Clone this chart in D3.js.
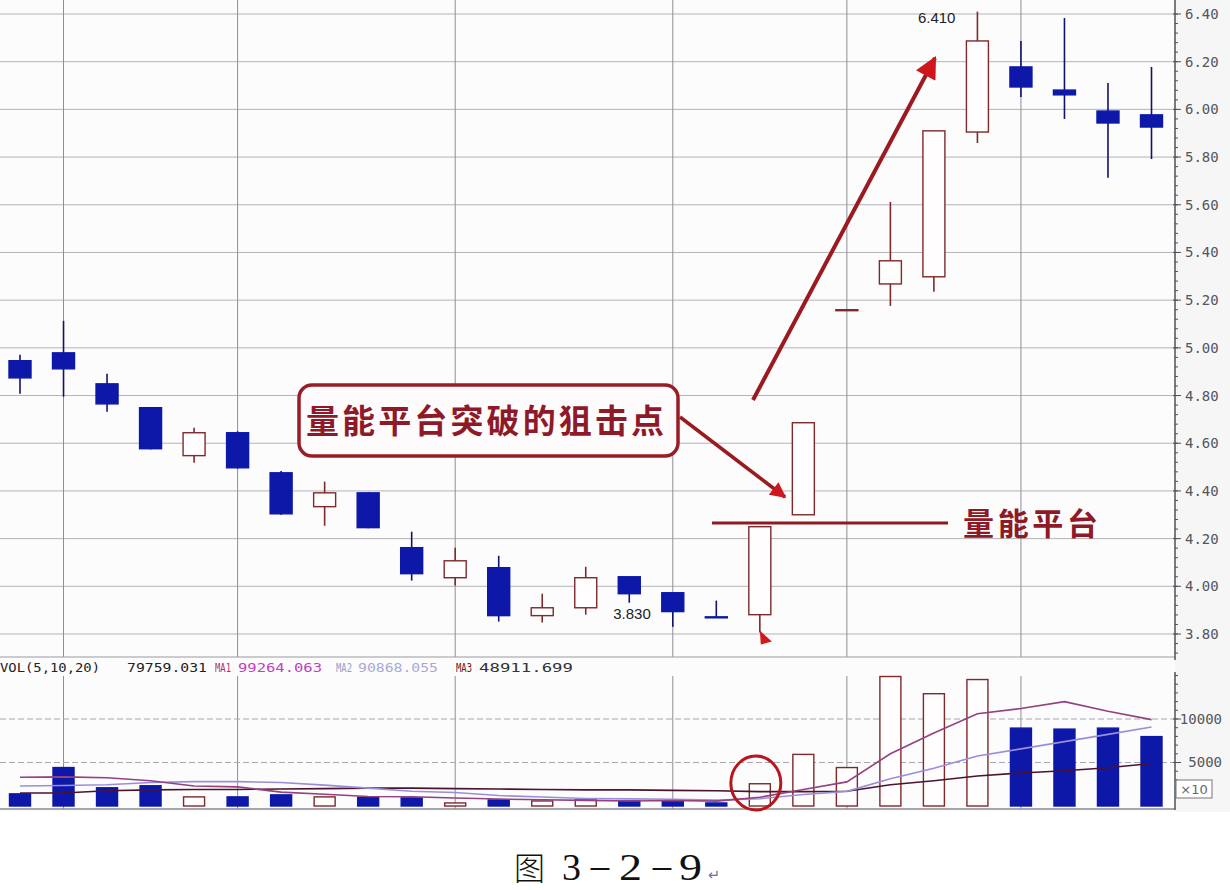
<!DOCTYPE html>
<html><head><meta charset="utf-8">
<script src="https://cdn.jsdelivr.net/npm/d3@7"></script>
<style>body{margin:0;background:#fff;overflow:hidden}</style>
</head><body><svg id="c" width="1230" height="890"></svg>
<script>
// ---------- DATA ----------
const opens  = [4.946,4.979,4.849,4.749,4.548,4.644,4.476,4.334,4.392,4.162,4.036,4.078,3.877,3.910,4.040,3.973,3.872,3.881,4.300,5.159,5.268,5.298,5.905,6.178,6.081,5.993,5.977];
const highs  = [4.971,5.113,4.891,4.752,4.665,4.650,4.484,4.439,4.395,4.229,4.162,4.128,3.969,4.082,4.040,3.975,3.940,4.250,4.686,5.161,5.612,5.910,6.410,6.287,6.383,6.111,6.178];
const lows   = [4.807,4.795,4.732,4.574,4.518,4.494,4.300,4.254,4.243,4.024,4.003,3.852,3.848,3.881,3.931,3.830,3.869,3.806,4.300,5.158,5.176,5.235,5.859,6.052,5.960,5.713,5.792];
const closes = [4.874,4.912,4.765,4.577,4.644,4.497,4.304,4.392,4.246,4.053,4.107,3.877,3.910,4.036,3.969,3.894,3.869,4.250,4.686,5.160,5.365,5.910,6.287,6.094,6.061,5.943,5.926];
const volumes = [1395,4419,2093,2326,1047,1047,1279,1047,1000,930,350,700,580,700,580,580,350,2558,5930,4419,14884,12907,14535,8953,8837,8953,7976];
const ma5  = [3300,3350,3250,2900,2300,2200,1600,1350,1100,1060,920,800,710,650,580,630,560,1000,1900,2770,6000,8400,10600,11200,12000,10900,9926];
const ma10 = [2300,2350,2450,2700,2800,2800,2700,2400,2050,1700,1550,1200,1030,870,820,775,680,830,1330,1680,3130,4350,5740,6570,7400,8230,9087];
const ma20 = [1500,1500,1750,1850,1900,1900,1950,2000,2050,2050,2000,1950,1900,1850,1850,1800,1750,1650,1650,1700,2450,2900,3450,3800,4050,4400,4891];
const priceTicks = [3.8,4.0,4.2,4.4,4.6,4.8,5.0,5.2,5.4,5.6,5.8,6.0,6.2,6.4];
const volTicks = [5000,10000];
const gridIdx = [1,5,10,15,19,23];
const headerTexts = ["VOL(5,10,20)","79759.031","MA1","99264.063","MA2","90868.055","MA3","48911.699"];
const maxLabel = "6.410", minLabel = "3.830";
const calloutText = "量能平台突破的狙击点";
const platformText = "量能平台";
const platformLevel = 4.266;
const captionParts = ["图","3","－","2","－","9","↵"];

// ---------- SETUP ----------
const svg = d3.select("#c");
const W = 1230;
const axisX = 1175;
const x = d3.scaleLinear().domain([0,26]).range([20,1151.5]);
const y = d3.scaleLinear().domain([3.8,6.4]).range([634,14]);
const yv = d3.scaleLinear().domain([0,10000]).range([806,719]);

svg.append("rect").attr("width",W).attr("height",890).attr("fill","#ffffff");
svg.append("rect").attr("x",0).attr("y",0).attr("width",W).attr("height",812).attr("fill","#fcfcfd");
svg.append("rect").attr("x",axisX).attr("y",0).attr("width",W-axisX).attr("height",812).attr("fill","#f6f6f7");

// price grid
svg.append("g").selectAll("line").data(priceTicks).join("line")
  .attr("x1",0).attr("x2",axisX).attr("y1",d=>y(d)).attr("y2",d=>y(d))
  .attr("stroke","#b4b4b8").attr("stroke-width",1);
// vertical grid
svg.append("g").selectAll("line").data(gridIdx).join("line")
  .attr("x1",d=>x(d)).attr("x2",d=>x(d)).attr("y1",0).attr("y2",657)
  .attr("stroke","#8e8e96").attr("stroke-width",1);
svg.append("g").selectAll("line").data(gridIdx).join("line")
  .attr("x1",d=>x(d)).attr("x2",d=>x(d)).attr("y1",676).attr("y2",809)
  .attr("stroke","#8e8e96").attr("stroke-width",1);
// pane separators
svg.append("line").attr("x1",0).attr("x2",axisX).attr("y1",657).attr("y2",657).attr("stroke","#9a9aa0");
svg.append("line").attr("x1",0).attr("x2",axisX).attr("y1",809).attr("y2",809).attr("stroke","#8a8a90").attr("stroke-width",1.5);
// volume grid
svg.append("g").selectAll("line").data(volTicks).join("line")
  .attr("x1",0).attr("x2",axisX).attr("y1",d=>yv(d)).attr("y2",d=>yv(d))
  .attr("stroke","#a8a8ae").attr("stroke-dasharray","6,3");

// right axes
const pAxis = d3.axisRight(y).tickValues(priceTicks).tickSize(0).tickFormat(d3.format(".2f"));
const gpa = svg.append("g").attr("transform",`translate(${axisX},0)`).call(pAxis);
gpa.select(".domain").remove();
gpa.selectAll("text").attr("x",10).attr("fill","#55555c").attr("font-family","DejaVu Sans Mono").attr("font-size",14);
svg.append("line").attr("x1",axisX).attr("x2",axisX).attr("y1",0).attr("y2",660).attr("stroke","#505058").attr("stroke-width",1.5);
// minor ticks
const minor = d3.range(3.72,6.44,0.04);
svg.append("g").selectAll("line").data(minor).join("line")
  .attr("x1",axisX).attr("x2",axisX+3).attr("y1",d=>y(d)).attr("y2",d=>y(d)).attr("stroke","#505058");
svg.append("g").selectAll("line").data(priceTicks).join("line")
  .attr("x1",axisX-2).attr("x2",axisX+6).attr("y1",d=>y(d)).attr("y2",d=>y(d)).attr("stroke","#505058");

const vAxis = d3.axisRight(yv).tickValues(volTicks).tickSize(0).tickFormat(d3.format("d"));
const gva = svg.append("g").attr("transform",`translate(${axisX},0)`).call(vAxis);
gva.select(".domain").remove();
gva.selectAll("text").attr("x",47).attr("text-anchor","end").attr("fill","#55555c").attr("font-family","DejaVu Sans Mono").attr("font-size",14);
svg.append("line").attr("x1",axisX).attr("x2",axisX).attr("y1",672).attr("y2",810).attr("stroke","#505058").attr("stroke-width",1.5);
svg.append("g").selectAll("line").data(d3.range(1000,16000,1000)).join("line")
  .attr("x1",axisX).attr("x2",axisX+3).attr("y1",d=>yv(d)).attr("y2",d=>yv(d)).attr("stroke","#505058");
svg.append("g").selectAll("line").data(volTicks).join("line")
  .attr("x1",axisX-2).attr("x2",axisX+6).attr("y1",d=>yv(d)).attr("y2",d=>yv(d)).attr("stroke","#505058");
svg.append("rect").attr("x",1176).attr("y",780).attr("width",36).attr("height",18).attr("fill","#fff").attr("stroke","#77777d");
svg.append("text").attr("x",1194).attr("y",794).attr("text-anchor","middle").attr("font-family","DejaVu Sans").attr("font-size",13).attr("fill","#66666c").text("×10");

// ---------- CANDLES ----------
const idx = d3.range(opens.length);
const isUp = i => closes[i] > opens[i];
const BLUE = "#0d18a8", WICK_D = "#12126a", RED = "#7c2a2c";
const cg = svg.append("g");
cg.selectAll("line").data(idx).join("line")
  .attr("x1",i=>x(i)).attr("x2",i=>x(i))
  .attr("y1",i=>y(highs[i])).attr("y2",i=>y(lows[i]))
  .attr("stroke",i=>isUp(i)?RED:WICK_D).attr("stroke-width",1.6);
cg.selectAll("rect").data(idx).join("rect")
  .attr("x",i=>x(i)-11).attr("width",22)
  .attr("y",i=>y(Math.max(opens[i],closes[i])))
  .attr("height",i=>Math.max(1,Math.abs(y(opens[i])-y(closes[i]))))
  .attr("fill",i=>isUp(i)?"#fffdfd":BLUE)
  .attr("stroke",i=>isUp(i)?RED:BLUE).attr("stroke-width",1.4);

// ---------- VOLUME ----------
const vg = svg.append("g");
vg.selectAll("rect").data(idx).join("rect")
  .attr("x",i=>x(i)-10.5).attr("width",21)
  .attr("y",i=>yv(volumes[i])).attr("height",i=>yv(0)-yv(volumes[i]))
  .attr("fill",i=>isUp(i)?"#fffdfd":BLUE)
  .attr("stroke",i=>isUp(i)?RED:BLUE).attr("stroke-width",1.4);
const line = d3.line().x((d,i)=>x(i)).y(d=>yv(d));
[[ma20,"#4a1430"],[ma10,"#9a8ed8"],[ma5,"#93417f"]].forEach(([arr,col])=>{
  svg.append("path").attr("d",line(arr)).attr("fill","none").attr("stroke",col).attr("stroke-width",1.6);
});

// header
const hx = [0,127,215,238,336,358,456,479];
const hw = [100,80,16,84,16,80,16,94];
const hc = ["#222","#222","#b0306a","#c040c0","#9a9ad0","#a8a8d8","#6a1a1a","#333"];
svg.append("g").selectAll("text").data(headerTexts).join("text")
  .attr("x",(d,i)=>hx[i]).attr("y",672)
  .attr("textLength",(d,i)=>hw[i]).attr("lengthAdjust","spacingAndGlyphs")
  .attr("font-family","DejaVu Sans Mono").attr("font-size",13)
  .attr("fill",(d,i)=>hc[i]).text(d=>d);

// ---------- ANNOTATIONS ----------
const hiIdx = d3.maxIndex(highs), loIdx = d3.minIndex(lows.slice(0,16));
svg.append("text").attr("x",x(hiIdx)-22).attr("y",y(highs[hiIdx])+11).attr("text-anchor","end")
  .attr("font-family","Liberation Sans").attr("font-size",15).attr("fill","#222").text(maxLabel);
svg.append("text").attr("x",x(loIdx)-22).attr("y",y(lows[loIdx])-8).attr("text-anchor","end")
  .attr("font-family","Liberation Sans").attr("font-size",15).attr("fill","#222").text(minLabel);

const defs = svg.append("defs");
defs.append("marker").attr("id","ah").attr("viewBox","0 0 10 10").attr("refX",9).attr("refY",5)
  .attr("markerWidth",5).attr("markerHeight",4.5).attr("orient","auto").attr("markerUnits","strokeWidth")
  .append("path").attr("d","M0,0 L10,5 L0,10 Z").attr("fill","#d0161c");
defs.append("marker").attr("id","ah2").attr("viewBox","0 0 10 10").attr("refX",9).attr("refY",5)
  .attr("markerWidth",6).attr("markerHeight",5.5).attr("orient","auto").attr("markerUnits","strokeWidth")
  .append("path").attr("d","M0,0 L10,5 L0,10 Z").attr("fill","#d0161c");

// callout box
svg.append("rect").attr("x",299).attr("y",385).attr("width",379).attr("height",71).attr("rx",13)
  .attr("fill","#fdfbfb").attr("stroke","#9a1c26").attr("stroke-width",3.5);
svg.append("text").attr("x",306).attr("y",433).attr("textLength",358).attr("lengthAdjust","spacing")
  .attr("font-family","Noto Sans CJK SC").attr("font-weight",700).attr("font-size",33).attr("fill","#8e1a28").text(calloutText);
// arrows
svg.append("line").attr("x1",680).attr("y1",417).attr("x2",785).attr("y2",497)
  .attr("stroke","#9a1a20").attr("stroke-width",3.5).attr("marker-end","url(#ah)");
svg.append("line").attr("x1",753).attr("y1",400).attr("x2",935).attr("y2",58)
  .attr("stroke","#9a1a20").attr("stroke-width",4).attr("marker-end","url(#ah2)");
// platform line
svg.append("line").attr("x1",712).attr("x2",948).attr("y1",y(platformLevel)).attr("y2",y(platformLevel))
  .attr("stroke","#8e1a20").attr("stroke-width",3);
svg.append("text").attr("x",963).attr("y",y(platformLevel)+12).attr("textLength",135).attr("lengthAdjust","spacing")
  .attr("font-family","Noto Sans CJK SC").attr("font-weight",700).attr("font-size",31).attr("fill","#8e1a28").text(platformText);
// flag under breakout candle
svg.append("path").attr("d",`M${x(17)},${y(lows[17])-2} L${x(17)+12},${y(lows[17])+9} L${x(17)+1},${y(lows[17])+12} Z`)
  .attr("fill","#d01a1e");
// circle on volume
svg.append("ellipse").attr("cx",x(17)-4).attr("cy",783).attr("rx",25).attr("ry",27)
  .attr("fill","none").attr("stroke","#b8161c").attr("stroke-width",3);

// caption
const cx = [514,562,587,619,649,679,708];
const cw = [31,19,26,23,26,23,12];
const cf = ["Noto Sans CJK SC","Liberation Serif","Noto Sans CJK SC","Liberation Serif","Noto Sans CJK SC","Liberation Serif","DejaVu Sans"];
const cs = [32,38,28,38,28,38,15];
const cc = ["#111","#111","#111","#111","#111","#111","#7a6a9a"];
svg.append("g").selectAll("text").data(captionParts).join("text")
  .attr("x",(d,i)=>cx[i]).attr("y",880).attr("font-family",(d,i)=>cf[i]).attr("font-size",(d,i)=>cs[i])
  .attr("textLength",(d,i)=>cw[i]).attr("lengthAdjust","spacingAndGlyphs")
  .attr("font-weight",(d,i)=>i===0?300:400).attr("fill",(d,i)=>cc[i]).text(d=>d);
</script></body></html>
